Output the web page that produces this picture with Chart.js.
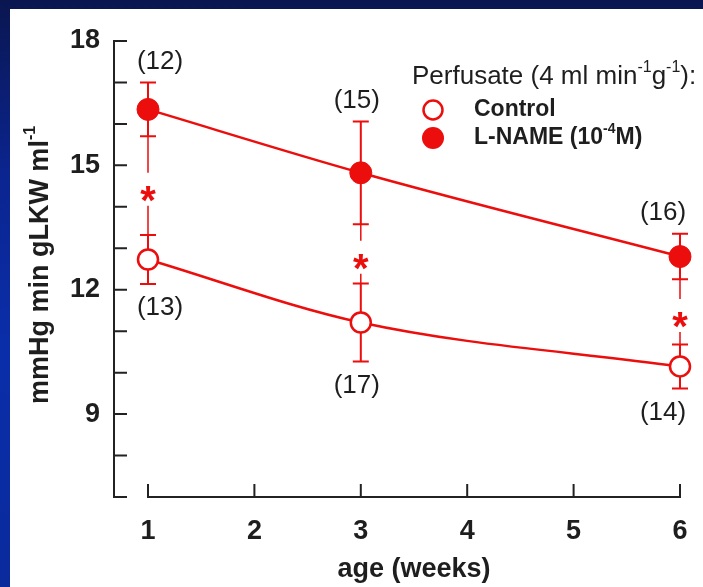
<!DOCTYPE html>
<html>
<head>
<meta charset="utf-8">
<script src="https://cdn.jsdelivr.net/npm/chart.js"></script>
<style>
  html, body { margin: 0; padding: 0; }
  body {
    width: 703px; height: 587px; overflow: hidden; position: relative;
    background: linear-gradient(to bottom, #0a1650 0%, #0b2590 30%, #0a2eaa 60%, #0a2a9c 100%);
  }
  #panel { position: absolute; left: 10px; top: 9px; width: 693px; height: 578px; background: #fff; }
</style>
</head>
<body>
<div id="panel"><canvas id="grafica" width="693" height="578"></canvas></div>
<script>
// datos
var semanas = [1, 3, 6];
var control = [12.73, 11.21, 10.15];
var controlError = [0.59, 0.94, 0.53];
var controlN = ["(13)", "(17)", "(14)"];
var lname = [16.35, 14.82, 12.80];
var lnameError = [0.65, 1.24, 0.55];
var lnameN = ["(12)", "(15)", "(16)"];
var marcaSignificancia = ["*", "*", "*"];
var etiquetasX = [1, 2, 3, 4, 5, 6];
var etiquetasY = [9, 12, 15, 18];

var ROJO = "#ec0d0d";
var TEXTO = "#1e1e1e";
var FUENTE = "'Liberation Sans', Arial, sans-serif";

Chart.defaults.font.family = FUENTE;
Chart.defaults.color = TEXTO;

// texto con superindices: partes [texto, esSuper]
function textoConSuper(ctx, partes, x, y, size, weight) {
  var cx = x;
  partes.forEach(function (p) {
    var s = p[1] ? Math.round(size * 0.6) : size;
    ctx.font = weight + " " + s + "px " + FUENTE;
    ctx.fillText(p[0], cx, p[1] ? y - size * 0.38 : y);
    cx += ctx.measureText(p[0]).width;
  });
  return cx - x;
}
function anchoConSuper(ctx, partes, size, weight) {
  var w = 0;
  partes.forEach(function (p) {
    var s = p[1] ? Math.round(size * 0.6) : size;
    ctx.font = weight + " " + s + "px " + FUENTE;
    w += ctx.measureText(p[0]).width;
  });
  return w;
}

var plugin = {
  id: "extras",
  beforeDatasetsDraw: function (chart) {
    var ctx = chart.ctx, xs = chart.scales.x, ys = chart.scales.y;
    ctx.save();
    ctx.strokeStyle = ROJO;
    ctx.fillStyle = ROJO;
    ctx.lineWidth = 2;
    // barras de error
    [[control, controlError], [lname, lnameError]].forEach(function (serie) {
      for (var i = 0; i < semanas.length; i++) {
        var px = xs.getPixelForValue(semanas[i]);
        var y1 = ys.getPixelForValue(serie[0][i] + serie[1][i]);
        var y2 = ys.getPixelForValue(serie[0][i] - serie[1][i]);
        ctx.beginPath();
        ctx.moveTo(px, y1); ctx.lineTo(px, y2);
        ctx.moveTo(px - 8, y1); ctx.lineTo(px + 8, y1);
        ctx.moveTo(px - 8, y2); ctx.lineTo(px + 8, y2);
        ctx.stroke();
      }
    });
    // linea de significancia con asterisco
    ctx.lineWidth = 1.5;
    for (var i = 0; i < semanas.length; i++) {
      var px = xs.getPixelForValue(semanas[i]);
      var arriba = ys.getPixelForValue(lname[i] - lnameError[i]);
      var abajo = ys.getPixelForValue(control[i] + controlError[i]);
      var centro = (arriba + abajo) / 2 + 5;
      ctx.beginPath();
      ctx.moveTo(px, arriba); ctx.lineTo(px, centro - 18);
      ctx.moveTo(px, centro + 15); ctx.lineTo(px, abajo);
      ctx.stroke();
      ctx.font = "bold 40px " + FUENTE;
      ctx.textAlign = "center";
      ctx.textBaseline = "alphabetic";
      ctx.fillText(marcaSignificancia[i], px, centro + 40 * 0.58);
    }
    ctx.restore();
  },
  afterDraw: function (chart) {
    var ctx = chart.ctx, xs = chart.scales.x, ys = chart.scales.y;
    var a = chart.chartArea;
    ctx.save();
    // ejes separados
    ctx.strokeStyle = "#222";
    ctx.lineWidth = 2;
    var ejeY = a.left - 34;
    ctx.beginPath();
    ctx.moveTo(ejeY, ys.getPixelForValue(18));
    ctx.lineTo(ejeY, ys.getPixelForValue(7));
    for (var v = 7; v <= 18; v++) {
      var py = ys.getPixelForValue(v);
      ctx.moveTo(ejeY - 1, py); ctx.lineTo(ejeY + 13, py);
    }
    var ejeX = a.bottom;
    ctx.moveTo(xs.getPixelForValue(1), ejeX);
    ctx.lineTo(xs.getPixelForValue(6), ejeX);
    etiquetasX.forEach(function (t) {
      var px = xs.getPixelForValue(t);
      ctx.moveTo(px, ejeX + 1); ctx.lineTo(px, ejeX - 13);
    });
    ctx.stroke();

    // numero de animales
    ctx.fillStyle = TEXTO;
    ctx.font = "26px " + FUENTE;
    ctx.textAlign = "center";
    ctx.textBaseline = "middle";
    var dx = [12, -4, -17];
    for (var i = 0; i < semanas.length; i++) {
      var px = xs.getPixelForValue(semanas[i]) + dx[i];
      ctx.fillText(lnameN[i], px, ys.getPixelForValue(lname[i] + lnameError[i]) - 21);
      ctx.fillText(controlN[i], px, ys.getPixelForValue(control[i] - controlError[i]) + 24);
    }

    // titulo eje Y con superindice
    var partesY = [["mmHg min gLKW ml", false], ["-1", true]];
    ctx.save();
    ctx.translate(31, 256);
    ctx.rotate(-Math.PI / 2);
    ctx.textAlign = "left";
    ctx.textBaseline = "middle";
    var w = anchoConSuper(ctx, partesY, 27, "bold");
    textoConSuper(ctx, partesY, -w / 2, 0, 27, "bold");
    ctx.restore();

    // leyenda
    ctx.textAlign = "left";
    ctx.textBaseline = "middle";
    textoConSuper(ctx, [["Perfusate (4 ml min", false], ["-1", true], ["g", false], ["-1", true], ["):", false]], 402, 68, 26, "normal");
    ctx.lineWidth = 2.5;
    ctx.strokeStyle = ROJO;
    ctx.fillStyle = "#fff";
    ctx.beginPath(); ctx.arc(423, 101, 9.5, 0, Math.PI * 2); ctx.fill(); ctx.stroke();
    ctx.fillStyle = ROJO;
    ctx.beginPath(); ctx.arc(423, 129, 11, 0, Math.PI * 2); ctx.fill();
    ctx.fillStyle = TEXTO;
    textoConSuper(ctx, [["Control", false]], 464, 101, 23, "bold");
    textoConSuper(ctx, [["L-NAME (10", false], ["-4", true], ["M)", false]], 464, 129, 23, "bold");
    ctx.restore();
  }
};

var datosControl = semanas.map(function (s, i) { return { x: s, y: control[i] }; });
var datosLname = semanas.map(function (s, i) { return { x: s, y: lname[i] }; });

new Chart(document.getElementById("grafica"), {
  type: "line",
  data: {
    datasets: [
      {
        label: "Control",
        data: datosControl,
        borderColor: ROJO,
        borderWidth: 2.5,
        cubicInterpolationMode: "monotone",
        pointRadius: 10,
        pointBorderWidth: 2.5,
        pointBackgroundColor: "#fff",
        pointBorderColor: ROJO,
        clip: false
      },
      {
        label: "L-NAME (10-4M)",
        data: datosLname,
        borderColor: ROJO,
        borderWidth: 2.5,
        cubicInterpolationMode: "monotone",
        pointRadius: 11,
        pointBorderWidth: 1,
        pointBackgroundColor: ROJO,
        pointBorderColor: ROJO,
        clip: false
      }
    ]
  },
  options: {
    responsive: false,
    animation: false,
    events: [],
    layout: { padding: { left: 0, right: 23, top: 32, bottom: 0 } },
    plugins: { legend: { display: false }, tooltip: { enabled: false } },
    scales: {
      x: {
        type: "linear",
        min: 1,
        max: 6,
        afterFit: function (scale) {
          scale.height = 90;
          scale.paddingLeft = 0; scale.paddingRight = 0;
        },
        afterBuildTicks: function (scale) {
          scale.ticks = etiquetasX.map(function (v) { return { value: v }; });
        },
        grid: { display: false, drawTicks: false },
        border: { display: false },
        ticks: { padding: 18, color: TEXTO, font: { size: 27, weight: "bold" } },
        title: { display: true, text: "age (weeks)", color: TEXTO, padding: { top: 0, bottom: 1 }, font: { size: 27, weight: "bold" } }
      },
      y: {
        type: "linear",
        min: 7,
        max: 18,
        afterFit: function (scale) {
          scale.width = 138;
          scale.paddingTop = 0; scale.paddingBottom = 0;
        },
        afterBuildTicks: function (scale) {
          scale.ticks = etiquetasY.map(function (v) { return { value: v }; });
        },
        grid: { display: false, drawTicks: false },
        border: { display: false },
        ticks: { padding: 48, color: TEXTO, font: { size: 27, weight: "bold" } }
      }
    }
  },
  plugins: [plugin]
});
</script>
</body>
</html>
